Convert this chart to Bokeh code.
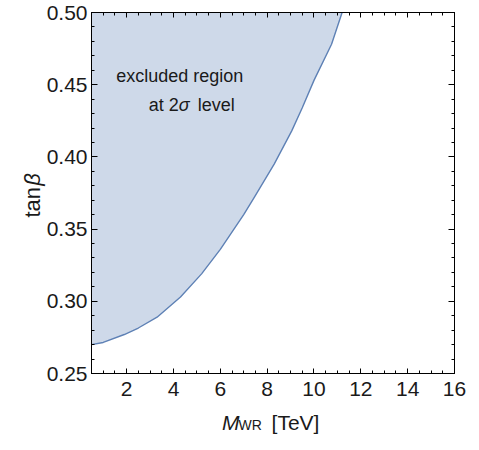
import math
from bokeh.plotting import figure
from bokeh.models import Range1d, FixedTicker, LinearAxis, Label, PrintfTickFormatter
from bokeh.embed import file_html
from bokeh.resources import INLINE

# boundary of the excluded region (M_WR in TeV, tan beta)
m_wr = [0.5, 1.0, 1.9, 2.5, 3.3, 4.3, 5.2, 6.0, 7.0, 7.45, 8.3, 9.05, 9.5, 10.0, 10.75, 11.2]
tan_beta = [0.270, 0.2715, 0.277, 0.2815, 0.289, 0.303, 0.319, 0.336, 0.360, 0.372, 0.395, 0.418, 0.434, 0.453, 0.478, 0.500]
tan_top = [0.5] * len(m_wr)

x_ticks = [2, 4, 6, 8, 10, 12, 14, 16]
x_minor = [0.5 * i for i in range(1, 33)]
y_ticks = [0.25, 0.30, 0.35, 0.40, 0.45, 0.50]
y_minor = [round(0.25 + 0.01 * i, 2) for i in range(0, 26)]

FONT = "Liberation Sans"
BLUE = "#5E81B5"
TXT = "#1a1a1a"

p = figure(frame_width=363, frame_height=361, output_backend="svg", toolbar_location=None,
           x_range=Range1d(0.5, 16), y_range=Range1d(0.25, 0.5),
           min_border_left=91, min_border_right=17, min_border_top=12, min_border_bottom=69,
           x_axis_location=None, y_axis_location=None)
p.grid.visible = False
p.outline_line_color = "black"
p.background_fill_color = "white"
p.border_fill_color = "white"

def make_axis(ticks, minor, show_labels, major_in):
    ax = LinearAxis(ticker=FixedTicker(ticks=ticks, minor_ticks=minor))
    ax.axis_line_color = "black"
    ax.major_tick_line_color = "black"
    ax.minor_tick_line_color = "black"
    ax.major_tick_in = major_in
    ax.major_tick_out = 0
    ax.minor_tick_in = 3
    ax.minor_tick_out = 0
    if show_labels:
        ax.major_label_text_font = FONT
        ax.major_label_text_font_size = "21px"
        ax.major_label_text_color = TXT
    else:
        ax.major_label_overrides = {t: "" for t in ticks}
        ax.major_label_standoff = 0
    return ax

xb = make_axis(x_ticks, x_minor, True, 5)
xb.major_label_standoff = 8
p.add_layout(xb, "below")
yl = make_axis(y_ticks, y_minor, True, 6)
yl.major_label_standoff = 4
yl.formatter = PrintfTickFormatter(format="%.2f")
p.add_layout(yl, "left")
p.add_layout(make_axis(x_ticks, x_minor, False, 5), "above")
p.add_layout(make_axis(y_ticks, y_minor, False, 6), "right")

p.varea(x=m_wr, y1=tan_beta, y2=tan_top, fill_color=BLUE, fill_alpha=0.3)
p.line(m_wr, tan_beta, line_color=BLUE, line_width=1.4)

def lab(x, y, text, size, style="normal", align="left", angle=0.0, place="center"):
    l = Label(x=x, y=y, text=text, text_font=FONT, text_font_size=size,
              text_font_style=style, text_color=TXT, text_align=align,
              text_baseline="alphabetic", angle=angle)
    if place == "center":
        p.add_layout(l)
    else:
        p.add_layout(l, place)

# annotation inside region
lab(4.27, 0.4559, "excluded region", "18px", align="center")
lab(4.23, 0.4361, "at 2", "18px", align="right")
lab(4.23, 0.4361, "\u03c3", "18px", style="italic")
lab(5.04, 0.4361, "level", "18px")

# x axis label
lab(6.07, 0.2161, "M", "21px", style="italic", place="below")
lab(6.78, 0.2143, "WR", "14px", place="below")
lab(8.19, 0.2161, "[TeV]", "21px", place="below")

# y axis label
lab(-2.03, 0.358, "tan", "22px", angle=math.pi / 2, place="below")
lab(-2.03, 0.380, "\u03b2", "22px", style="italic", angle=math.pi / 2, place="below")

open("out.html", "w").write(file_html(p, INLINE))
